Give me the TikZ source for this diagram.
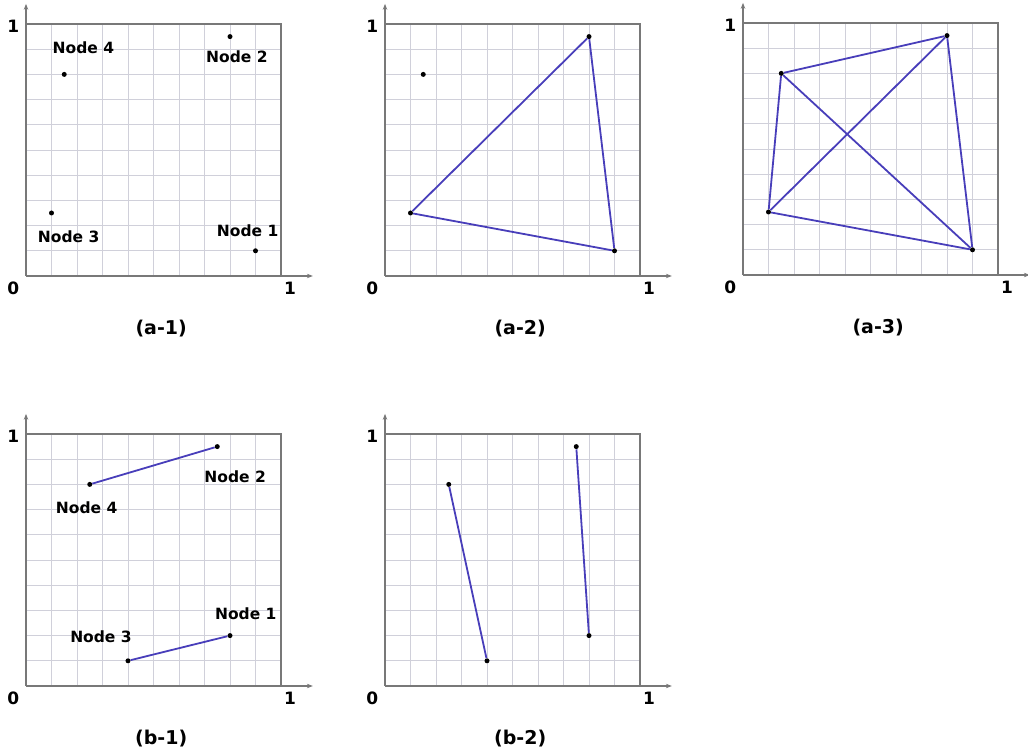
\documentclass[tikz,border=0pt]{standalone}
\usepackage{fontspec}
\setmainfont{DejaVu Sans}
\usetikzlibrary{arrows.meta}

\definecolor{edgeblue}{RGB}{72,62,186}
\definecolor{gridgray}{RGB}{208,208,218}
\definecolor{framegray}{RGB}{120,120,120}

% Unit square with grid, axes and caption
\newcommand{\unitaxes}[1]{%
  \draw[gridline] (0,0) grid[step=0.1] (1,1);
  \draw[framebox] (0,1) -- (1,1) -- (1,0);
  \draw[axisline] (0,0) -- (0,1.08);
  \draw[axisline] (0,0) -- (1.125,0);
  \node[axlbl] at (-0.05,0.99) {1};
  \node[axlbl] at (-0.05,-0.05) {0};
  \node[axlbl] at (1.035,-0.05) {1};
  \node[caption] at (0.53,-0.21) {#1};
}

\begin{document}
\begin{tikzpicture}[x=1pt,y=1pt,
  gridline/.style={gridgray,line width=0.9pt},
  framebox/.style={framegray,line width=1.3pt},
  axisline/.style={framegray,line width=1.3pt,-{Stealth[length=6pt,width=4.5pt]}},
  axlbl/.style={font=\bfseries\fontsize{17}{20}\selectfont},
  caption/.style={font=\bfseries\fontsize{19}{23}\selectfont},
  lbl/.style={font=\bfseries\fontsize{15.5}{18}\selectfont,inner sep=0pt},
  pt/.style={circle,fill=black,inner sep=0pt,minimum size=5pt},
  edge/.style={edgeblue,line width=1.8pt}]

\useasboundingbox (0,0) rectangle (1028,752);

% (a-1): four nodes
\begin{scope}[shift={(26pt,476pt)},x=255pt,y=252pt]
\unitaxes{(a-1)}
\node[pt] (a1n1) at (0.90,0.10) {};
\node[pt] (a1n2) at (0.80,0.95) {};
\node[pt] (a1n3) at (0.10,0.25) {};
\node[pt] (a1n4) at (0.15,0.80) {};
\node[lbl] (a1l1) at (0.869,0.179) {Node 1};
\node[lbl] (a1l2) at (0.827,0.871) {Node 2};
\node[lbl] (a1l3) at (0.167,0.155) {Node 3};
\node[lbl] (a1l4) at (0.225,0.907) {Node 4};
\end{scope}

% (a-2): triangle
\begin{scope}[shift={(385pt,476pt)},x=255pt,y=252pt]
\unitaxes{(a-2)}
\node[pt] (a2n1) at (0.90,0.10) {};
\node[pt] (a2n2) at (0.80,0.95) {};
\node[pt] (a2n3) at (0.10,0.25) {};
\node[pt] (a2n4) at (0.15,0.80) {};
\draw[edge] (a2n3) -- (a2n2);
\draw[edge] (a2n2) -- (a2n1);
\draw[edge] (a2n1) -- (a2n3);
\end{scope}

% (a-3): all pairs joined
\begin{scope}[shift={(743pt,477pt)},x=255pt,y=252pt]
\unitaxes{(a-3)}
\node[pt] (a3n1) at (0.90,0.10) {};
\node[pt] (a3n2) at (0.80,0.95) {};
\node[pt] (a3n3) at (0.10,0.25) {};
\node[pt] (a3n4) at (0.15,0.80) {};
\foreach \i/\j in {1/2,1/3,1/4,2/3,2/4,3/4}
  \draw[edge] (a3n\i) -- (a3n\j);
\end{scope}

% (b-1): two pairs
\begin{scope}[shift={(26pt,66pt)},x=255pt,y=252pt]
\unitaxes{(b-1)}
\node[pt] (b1n1) at (0.80,0.20) {};
\node[pt] (b1n2) at (0.75,0.95) {};
\node[pt] (b1n3) at (0.40,0.10) {};
\node[pt] (b1n4) at (0.25,0.80) {};
\node[lbl] (b1l1) at (0.862,0.287) {Node 1};
\node[lbl] (b1l2) at (0.820,0.831) {Node 2};
\node[lbl] (b1l3) at (0.294,0.195) {Node 3};
\node[lbl] (b1l4) at (0.238,0.709) {Node 4};
\draw[edge] (b1n4) -- (b1n2);
\draw[edge] (b1n3) -- (b1n1);
\end{scope}

% (b-2): the other pairing
\begin{scope}[shift={(385pt,66pt)},x=255pt,y=252pt]
\unitaxes{(b-2)}
\node[pt] (b2n1) at (0.80,0.20) {};
\node[pt] (b2n2) at (0.75,0.95) {};
\node[pt] (b2n3) at (0.40,0.10) {};
\node[pt] (b2n4) at (0.25,0.80) {};
\draw[edge] (b2n4) -- (b2n3);
\draw[edge] (b2n2) -- (b2n1);
\end{scope}

\end{tikzpicture}
\end{document}
